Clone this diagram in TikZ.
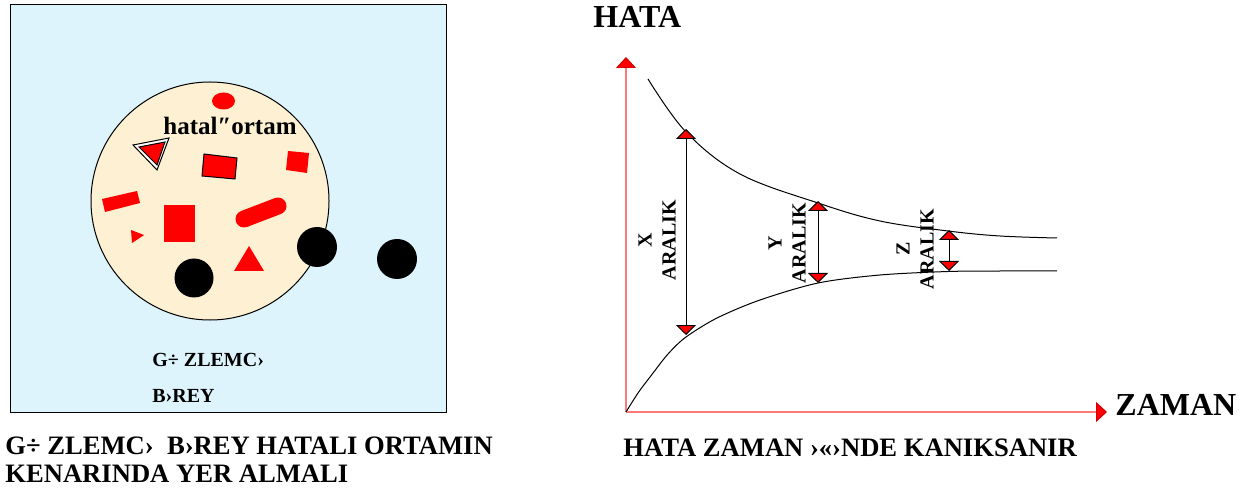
\documentclass[tikz,border=0pt]{standalone}
\usepackage{fontspec}
\setmainfont{Liberation Serif}
\usepackage{tikz}
\usetikzlibrary{arrows.meta,positioning,calc}
\definecolor{panelblue}{HTML}{DDF4FC}
\definecolor{cream}{HTML}{FEF0D2}
\definecolor{hotred}{HTML}{FF0000}
\definecolor{axisred}{HTML}{FF7A7A}

\begin{document}
\begin{tikzpicture}[x=0.5pt,y=-0.5pt,font=\bfseries,>=Latex]
  \tikzset{
    blob/.style={fill=hotred},
    ball/.style={fill=black},
    caption/.style={font=\fontsize{13.3}{16}\selectfont\bfseries,anchor=base west,inner sep=0pt},
    paneltext/.style={font=\fontsize{10}{12}\selectfont\bfseries,inner sep=0pt},
    axislabel/.style={font=\fontsize{16}{19}\selectfont\bfseries,anchor=base west,inner sep=0pt},
    axis/.style={draw=axisred,line width=0.6pt,-{Triangle[length=5.5pt,width=10pt,fill=hotred,color=hotred!85!black]}},
    span/.style={line width=0.5pt,{Triangle[length=5pt,width=10pt,fill=hotred]}-{Triangle[length=5pt,width=10pt,fill=hotred]}},
    curve/.style={line width=0.5pt}
  }
  \useasboundingbox (0,0) rectangle (1245,491);

  \draw[fill=panelblue,line width=0.5pt] (10,5) rectangle (446,412);
  \draw[fill=cream,line width=0.5pt] (210,201) circle[radius=119];
  \fill[blob] (223.5,101) ellipse[x radius=11.5,y radius=8.5];
  \node[font=\fontsize{12.5}{15}\selectfont\bfseries,anchor=base,inner sep=0pt] (hatali) at (230,135) {hatal″ortam};
  \draw[fill=white,line width=0.5pt] (133,145) -- (169,138) -- (157,170) -- cycle;
  \draw[blob,draw=black,line width=0.5pt] (139,147) -- (165,142) -- (157,165) -- cycle;
  \draw[blob,draw=black,line width=0.5pt] (204,154) -- (237,158) -- (235,179) -- (202,176) -- cycle;
  \fill[blob] (288,151) -- (309,153) -- (307,173) -- (286,170) -- cycle;
  \fill[blob] (102,199) -- (137,191) -- (140,203) -- (105,212) -- cycle;
  \fill[blob] (164,205) rectangle (195,242);
  \fill[blob] (131,230) -- (144,235) -- (132,243) -- cycle;
  \draw[hotred,line width=8.5pt,line cap=round] (244,219) -- (278,206);
  \fill[blob] (234,271) -- (264,271) -- (249,246) -- cycle;
  \fill[ball] (194,278) circle[radius=19.5];
  \fill[ball] (317,247) circle[radius=20];
  \fill[ball] (397,259) circle[radius=20];
  \node[paneltext,anchor=base west] (gozlemci) at (152,366) {G÷ ZLEMC›};
  \node[paneltext,anchor=base west] (birey) at (152,402) {B›REY};

  \node[caption] (solalt1) at (5,454) {G÷ ZLEMC›~ B›REY HATALI ORTAMIN};
  \node[caption] (solalt2) at (5,482) {KENARINDA YER ALMALI};

  \coordinate (origin) at (626,412);
  \coordinate (ytip) at (626,57);
  \coordinate (xtip) at (1107,412);
  \draw[axis] (origin) -- (ytip);
  \draw[axis] (origin) -- (xtip);
  \node[axislabel] (hata) at (593,28) {HATA};
  \node[axislabel] (zaman) at (1115,415) {ZAMAN};
  \node[caption] (sagalt) at (623,456) {HATA ZAMAN ›«›NDE KANIKSANIR};

  \draw[curve] plot[smooth,tension=0.6] coordinates {(648,79) (686,132) (740,174) (818,203) (880,221) (948,231) (1000,236) (1057,238)};
  \draw[curve] plot[smooth,tension=0.5] coordinates {(626,412) (638,393) (650,377) (668,354) (686,337) (717,318) (760,300) (818,283) (880,275) (948,271.5) (1000,271) (1057,271)};

  \coordinate (xust) at (686,129);
  \coordinate (xalt) at (686,335);
  \coordinate (yust) at (818,201);
  \coordinate (yalt) at (818,283);
  \coordinate (zust) at (949,230);
  \coordinate (zalt) at (949,271);
  \draw[span] (xust) -- (xalt);
  \draw[span] (yust) -- (yalt);
  \draw[span] (zust) -- (zalt);
  \node[paneltext,rotate=90,align=center] (xaralik) at (657,240) {X\\ARALIK};
  \node[paneltext,rotate=90,align=center] (yaralik) at (787,243) {Y\\ARALIK};
  \node[paneltext,rotate=90,align=center] (zaralik) at (915,249) {Z\\ARALIK};
\end{tikzpicture}
\end{document}
